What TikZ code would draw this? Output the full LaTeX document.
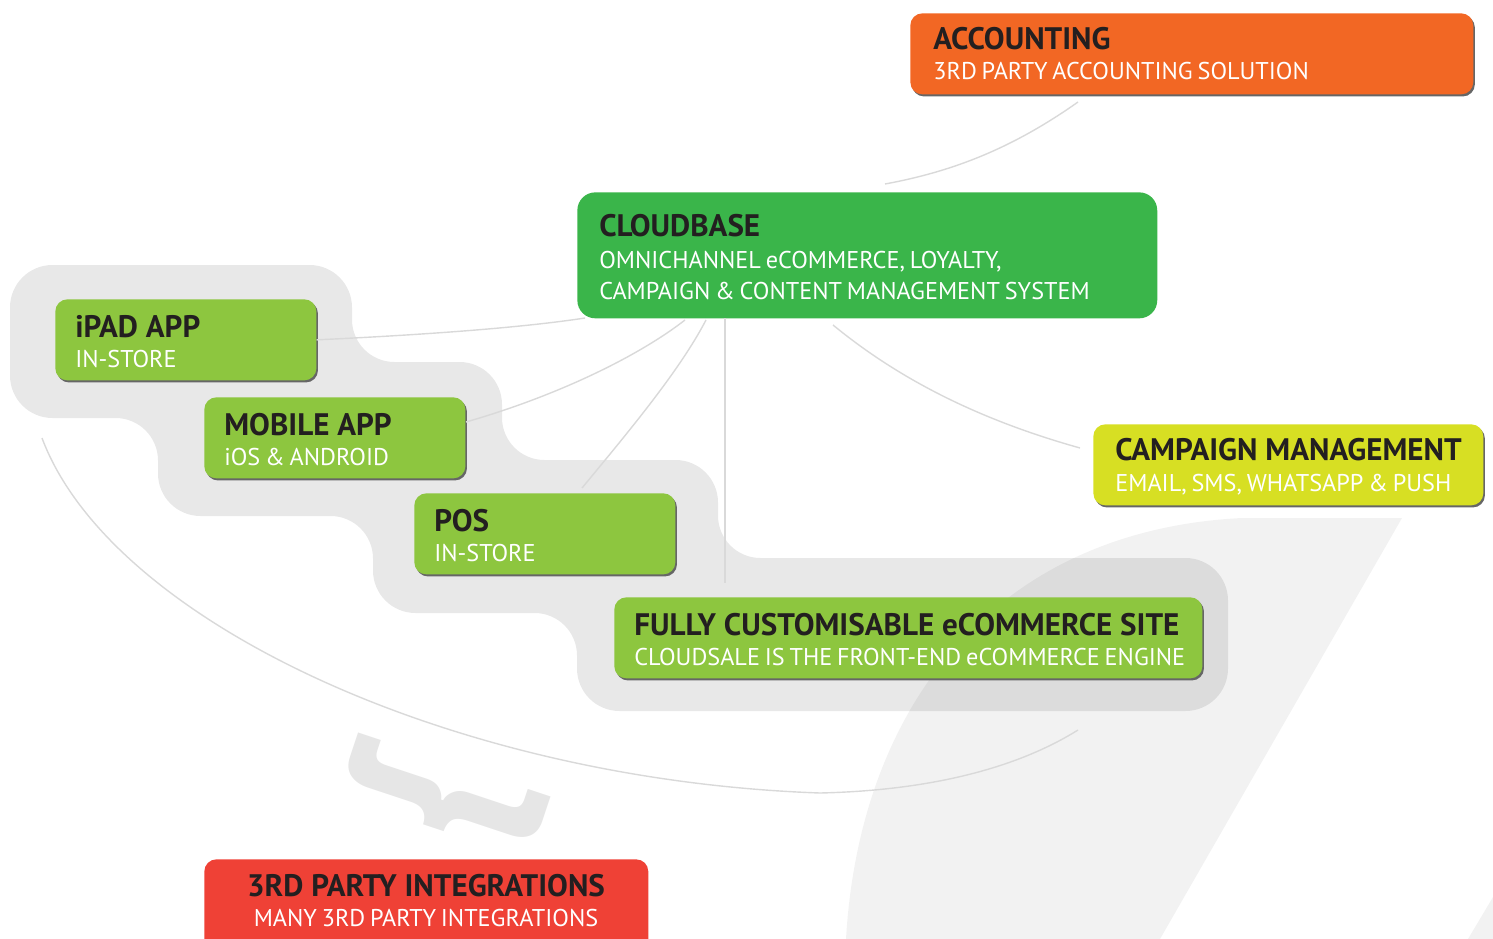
\documentclass[tikz,border=0pt]{standalone}
\usepackage{fontspec}
\setmainfont{PT Sans}
\newfontfamily\subfont{PT Sans}[WordSpace=0.75]
\usetikzlibrary{shadows}
\definecolor{naranja}{HTML}{F26724}
\definecolor{verde}{HTML}{3AB54A}
\definecolor{verdeclaro}{HTML}{8DC63F}
\definecolor{amarillo}{HTML}{D7DF23}
\definecolor{rojo}{HTML}{EF4136}
\definecolor{fondo}{HTML}{E8E8E8}
\definecolor{linea}{HTML}{D9D9D9}
\definecolor{llave}{HTML}{E6E6E6}
\definecolor{oscuro}{HTML}{231F20}
\begin{document}
\begin{tikzpicture}[x=0.02cm, y=-0.02cm,
    caja/.style={rounded corners=0.24cm, minimum height=1.62cm, inner sep=0pt},
    sombra/.style={drop shadow={shadow xshift=0.9pt, shadow yshift=-1.2pt, fill=black!60, opacity=1}},
    titulo/.style={font=\bfseries\fontsize{17.7}{20}\selectfont, text=oscuro, inner sep=0pt, anchor=base west},
    sub/.style={font=\subfont\fontsize{13.8}{17}\selectfont, text=white, inner sep=0pt, anchor=base west},
    conexion/.style={draw=linea, line width=0.8pt}]
    \clip (0,0) rectangle (1493,939);
    % Fondo
    \fill[fondo, rounded corners=0.85cm] (10,265) -- (352,265) -- (352,362) -- (502,362) -- (502,460)
        -- (718,460) -- (718,558) -- (1228,558) -- (1228,711) -- (577,711) -- (577,613) -- (373,613)
        -- (373,516) -- (158,516) -- (158,418) -- (10,418) -- cycle;
    \fill[black, opacity=0.05] (1242,518) -- (1402,518) -- (1160,939) -- (846,939)
        .. controls (860,700) and (1000,530) .. (1242,518);
    \fill[black, opacity=0.05] (1468,939) -- (1493,897) -- (1493,939) -- cycle;
    \node[rotate=-108.4, text=llave, font=\bfseries\fontsize{124}{124}\selectfont, inner sep=0pt] (llave) at (444,796) {\}};
    % Cajas
    \node[caja, sombra, fill=naranja, minimum width=11.26cm, anchor=north west] (acc) at (910,13) {};
    \node[titulo] (acc-t) at ([shift={(23,37)}]acc.north west) {ACCOUNTING};
    \node[sub] (acc-s) at ([shift={(23,67)}]acc.north west) {3RD PARTY ACCOUNTING SOLUTION};
    \node[caja, fill=verde, rounded corners=0.36cm, minimum width=11.6cm, minimum height=2.52cm, anchor=north west] (cloud) at (577,192) {};
    \node[titulo] (cloud-t) at ([shift={(22,44)}]cloud.north west) {CLOUDBASE};
    \node[sub] (cloud-s1) at ([shift={(22,76)}]cloud.north west) {OMNICHANNEL eCOMMERCE, LOYALTY,};
    \node[sub] (cloud-s2) at ([shift={(22,107)}]cloud.north west) {CAMPAIGN \& CONTENT MANAGEMENT SYSTEM};
    \foreach \nm/\x/\y/\w/\tit/\sut in {ipad/55/299/261/iPAD APP/IN-STORE,
        movil/204/397/261/MOBILE APP/iOS \& ANDROID,
        pos/414/493/261/POS/IN-STORE,
        web/614/597/588/FULLY CUSTOMISABLE eCOMMERCE SITE/CLOUDSALE IS THE FRONT-END eCOMMERCE ENGINE} {
        \node[caja, sombra, fill=verdeclaro, minimum width=\w*0.02cm, anchor=north west] (\nm) at (\x,\y) {};
        \node[titulo] (\nm-t) at ([shift={(20,38)}]\nm.north west) {\tit};
        \node[sub] (\nm-s) at ([shift={(20,68)}]\nm.north west) {\sut};
    }
    \node[caja, sombra, fill=amarillo, minimum width=7.8cm, anchor=north west] (camp) at (1093,424) {};
    \node[titulo] (camp-t) at ([shift={(22,36)}]camp.north west) {CAMPAIGN MANAGEMENT};
    \node[sub] (camp-s) at ([shift={(22,67)}]camp.north west) {EMAIL, SMS, WHATSAPP \& PUSH};
    \node[caja, fill=rojo, minimum width=8.88cm, minimum height=1.92cm, anchor=north west] (integ) at (204,859) {};
    \node[titulo, anchor=base] (integ-t) at (426,896) {3RD PARTY INTEGRATIONS};
    \node[sub, anchor=base] (integ-s) at (426,926) {MANY 3RD PARTY INTEGRATIONS};
    % Conexiones
    \coordinate (c-acc) at (1078,102);
    \coordinate (c-cloud1) at (885,184);
    \coordinate (c-cloud2) at (585,318);
    \coordinate (c-cloud3) at (685,320);
    \coordinate (c-cloud4) at (706,320);
    \coordinate (c-cloud5) at (725,318);
    \coordinate (c-cloud6) at (833,325);
    \coordinate (c-movil) at (466,422);
    \coordinate (c-pos) at (582,488);
    \coordinate (c-web) at (725,583);
    \coordinate (c-camp) at (1080,448);
    \coordinate (c-arco1) at (42,438);
    \coordinate (c-arco2) at (1078,730);
    \draw[conexion] (c-acc) .. controls (1010,150) and (950,172) .. (c-cloud1);
    \draw[conexion] (ipad.east) .. controls (420,335) and (520,328) .. (c-cloud2);
    \draw[conexion] (c-movil) .. controls (560,395) and (640,355) .. (c-cloud3);
    \draw[conexion] (c-pos) .. controls (630,430) and (680,370) .. (c-cloud4);
    \draw[conexion] (c-cloud5) -- (c-web);
    \draw[conexion] (c-cloud6) .. controls (900,380) and (980,420) .. (c-camp);
    \draw[conexion] (c-arco1) .. controls (110,620) and (450,780) .. (820,793)
        .. controls (950,790) and (1030,760) .. (c-arco2);
\end{tikzpicture}
\end{document}
